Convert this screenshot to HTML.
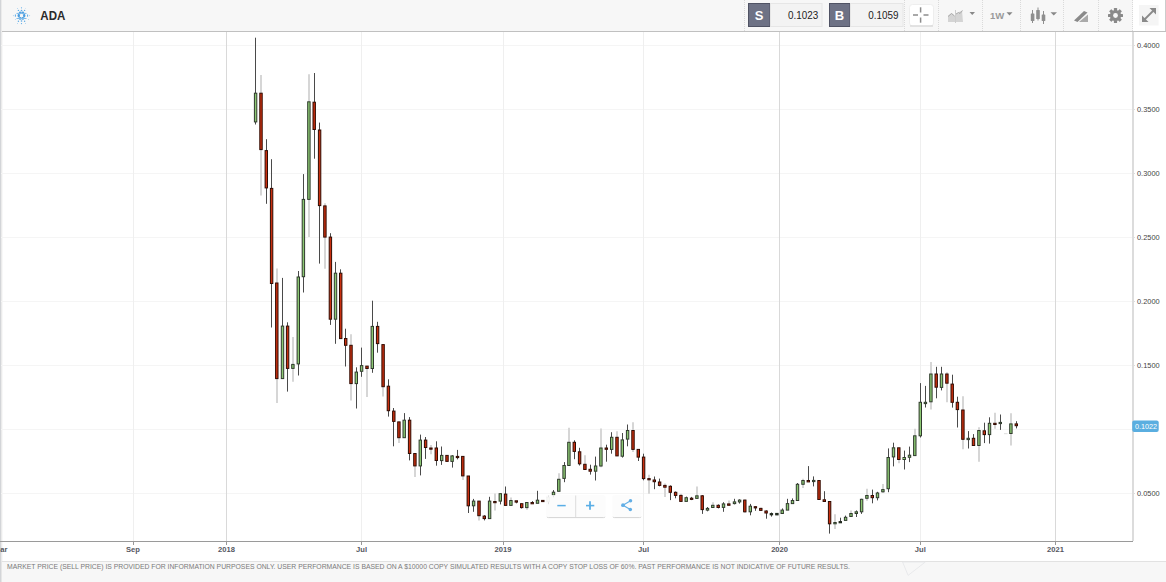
<!DOCTYPE html>
<html><head><meta charset="utf-8"><style>
html,body{margin:0;padding:0;background:#fff;}
body{width:1166px;height:582px;overflow:hidden;position:relative;font-family:"Liberation Sans",sans-serif;}
svg{position:absolute;left:0;top:0;display:block;}
.xl{font-family:"Liberation Sans",sans-serif;font-size:7.6px;font-weight:bold;fill:#55575f;}
.yl{font-family:"Liberation Sans",sans-serif;font-size:7.4px;fill:#444;}
.ft{font-family:"Liberation Sans",sans-serif;font-size:7px;fill:#7a7a7a;}
</style></head><body>
<svg width="1166" height="582" viewBox="0 0 1166 582">
<rect x="0" y="0" width="1166" height="582" fill="#fff"/>
<!-- header -->
<rect x="0" y="0" width="1166" height="31" fill="#f7f7f7"/>
<rect x="1133" y="0" width="33" height="31" fill="#fff"/>
<line x1="0" y1="31.5" x2="1166" y2="31.5" stroke="#c0c0c0" stroke-width="1"/>
<!-- left border -->
<rect x="0" y="0" width="1" height="582" fill="#d3d5d8"/><rect x="1" y="0" width="1" height="582" fill="#ebebeb"/><rect x="2" y="32" width="1" height="529" fill="#f8f8f8"/>
<!-- chart grid -->
<line x1="1" y1="493.5" x2="1132" y2="493.5" stroke="#f5f5f5" stroke-width="1"/><line x1="1" y1="429.5" x2="1132" y2="429.5" stroke="#f5f5f5" stroke-width="1"/><line x1="1" y1="365.5" x2="1132" y2="365.5" stroke="#f5f5f5" stroke-width="1"/><line x1="1" y1="301.5" x2="1132" y2="301.5" stroke="#f5f5f5" stroke-width="1"/><line x1="1" y1="237.5" x2="1132" y2="237.5" stroke="#f5f5f5" stroke-width="1"/><line x1="1" y1="173.5" x2="1132" y2="173.5" stroke="#f5f5f5" stroke-width="1"/><line x1="1" y1="109.5" x2="1132" y2="109.5" stroke="#f5f5f5" stroke-width="1"/><line x1="1" y1="45.5" x2="1132" y2="45.5" stroke="#f5f5f5" stroke-width="1"/>
<line x1="133.5" y1="32" x2="133.5" y2="541" stroke="#efefef" stroke-width="1"/><line x1="361.5" y1="32" x2="361.5" y2="541" stroke="#efefef" stroke-width="1"/><line x1="503.5" y1="32" x2="503.5" y2="541" stroke="#efefef" stroke-width="1"/><line x1="643.5" y1="32" x2="643.5" y2="541" stroke="#efefef" stroke-width="1"/><line x1="920.5" y1="32" x2="920.5" y2="541" stroke="#efefef" stroke-width="1"/><line x1="226.5" y1="32" x2="226.5" y2="541" stroke="#d9d9d9" stroke-width="1"/><line x1="779.5" y1="32" x2="779.5" y2="541" stroke="#d9d9d9" stroke-width="1"/><line x1="1055.5" y1="32" x2="1055.5" y2="541" stroke="#d9d9d9" stroke-width="1"/>
<!-- candles -->
<g><line x1="255.5" y1="37.7" x2="255.5" y2="93.2" stroke="#4a4a4a" stroke-width="1"/><line x1="255.5" y1="121.9" x2="255.5" y2="124.5" stroke="#4a4a4a" stroke-width="1"/><line x1="261" y1="75.0" x2="261" y2="93.2" stroke="#d6d6d6" stroke-width="2"/><line x1="261" y1="149.6" x2="261" y2="195.6" stroke="#d6d6d6" stroke-width="2"/><line x1="266.5" y1="139.2" x2="266.5" y2="150.6" stroke="#4a4a4a" stroke-width="1"/><line x1="266.5" y1="187.9" x2="266.5" y2="203.8" stroke="#4a4a4a" stroke-width="1"/><line x1="271.5" y1="159.2" x2="271.5" y2="188.4" stroke="#4a4a4a" stroke-width="1"/><line x1="271.5" y1="283.5" x2="271.5" y2="327.5" stroke="#4a4a4a" stroke-width="1"/><line x1="277" y1="268.4" x2="277" y2="283.0" stroke="#d6d6d6" stroke-width="2"/><line x1="277" y1="378.6" x2="277" y2="403.0" stroke="#d6d6d6" stroke-width="2"/><line x1="282.5" y1="277.9" x2="282.5" y2="326.1" stroke="#4a4a4a" stroke-width="1"/><line x1="282.5" y1="378.6" x2="282.5" y2="379.0" stroke="#4a4a4a" stroke-width="1"/><line x1="287.5" y1="322.3" x2="287.5" y2="326.1" stroke="#4a4a4a" stroke-width="1"/><line x1="287.5" y1="368.4" x2="287.5" y2="391.6" stroke="#4a4a4a" stroke-width="1"/><line x1="293" y1="336.9" x2="293" y2="364.4" stroke="#d6d6d6" stroke-width="2"/><line x1="293" y1="368.4" x2="293" y2="381.7" stroke="#d6d6d6" stroke-width="2"/><line x1="298.5" y1="271.0" x2="298.5" y2="277.0" stroke="#4a4a4a" stroke-width="1"/><line x1="298.5" y1="363.9" x2="298.5" y2="375.5" stroke="#4a4a4a" stroke-width="1"/><line x1="303.5" y1="174.1" x2="303.5" y2="199.4" stroke="#4a4a4a" stroke-width="1"/><line x1="303.5" y1="276.7" x2="303.5" y2="292.5" stroke="#4a4a4a" stroke-width="1"/><line x1="309" y1="74.3" x2="309" y2="101.8" stroke="#d6d6d6" stroke-width="2"/><line x1="309" y1="199.4" x2="309" y2="237.1" stroke="#d6d6d6" stroke-width="2"/><line x1="314.5" y1="73.0" x2="314.5" y2="102.2" stroke="#4a4a4a" stroke-width="1"/><line x1="314.5" y1="129.5" x2="314.5" y2="158.7" stroke="#4a4a4a" stroke-width="1"/><line x1="319.5" y1="122.6" x2="319.5" y2="130.0" stroke="#4a4a4a" stroke-width="1"/><line x1="319.5" y1="205.6" x2="319.5" y2="263.6" stroke="#4a4a4a" stroke-width="1"/><line x1="325" y1="203.3" x2="325" y2="205.9" stroke="#d6d6d6" stroke-width="2"/><line x1="325" y1="237.1" x2="325" y2="268.8" stroke="#d6d6d6" stroke-width="2"/><line x1="330.5" y1="233.2" x2="330.5" y2="237.1" stroke="#4a4a4a" stroke-width="1"/><line x1="330.5" y1="319.2" x2="330.5" y2="324.9" stroke="#4a4a4a" stroke-width="1"/><line x1="335.5" y1="261.9" x2="335.5" y2="273.2" stroke="#4a4a4a" stroke-width="1"/><line x1="335.5" y1="319.2" x2="335.5" y2="343.8" stroke="#4a4a4a" stroke-width="1"/><line x1="340.5" y1="269.3" x2="340.5" y2="273.2" stroke="#4a4a4a" stroke-width="1"/><line x1="345.5" y1="328.7" x2="345.5" y2="338.5" stroke="#4a4a4a" stroke-width="1"/><line x1="345.5" y1="345.3" x2="345.5" y2="366.5" stroke="#4a4a4a" stroke-width="1"/><line x1="351" y1="334.3" x2="351" y2="345.3" stroke="#d6d6d6" stroke-width="2"/><line x1="351" y1="383.6" x2="351" y2="400.4" stroke="#d6d6d6" stroke-width="2"/><line x1="356.5" y1="367.3" x2="356.5" y2="372.1" stroke="#4a4a4a" stroke-width="1"/><line x1="356.5" y1="383.6" x2="356.5" y2="408.5" stroke="#4a4a4a" stroke-width="1"/><line x1="361.5" y1="347.6" x2="361.5" y2="365.6" stroke="#4a4a4a" stroke-width="1"/><line x1="361.5" y1="371.3" x2="361.5" y2="376.8" stroke="#4a4a4a" stroke-width="1"/><line x1="367" y1="368.5" x2="367" y2="397.0" stroke="#d6d6d6" stroke-width="2"/><line x1="372.5" y1="300.7" x2="372.5" y2="326.4" stroke="#4a4a4a" stroke-width="1"/><line x1="372.5" y1="368.5" x2="372.5" y2="372.8" stroke="#4a4a4a" stroke-width="1"/><line x1="377.5" y1="321.8" x2="377.5" y2="326.4" stroke="#4a4a4a" stroke-width="1"/><line x1="377.5" y1="343.6" x2="377.5" y2="352.7" stroke="#4a4a4a" stroke-width="1"/><line x1="383" y1="344.0" x2="383" y2="344.6" stroke="#d6d6d6" stroke-width="2"/><line x1="383" y1="386.7" x2="383" y2="396.5" stroke="#d6d6d6" stroke-width="2"/><line x1="388.5" y1="379.3" x2="388.5" y2="386.2" stroke="#4a4a4a" stroke-width="1"/><line x1="388.5" y1="410.7" x2="388.5" y2="416.6" stroke="#4a4a4a" stroke-width="1"/><line x1="393.5" y1="408.0" x2="393.5" y2="411.1" stroke="#4a4a4a" stroke-width="1"/><line x1="393.5" y1="421.4" x2="393.5" y2="446.3" stroke="#4a4a4a" stroke-width="1"/><line x1="399" y1="421.5" x2="399" y2="421.9" stroke="#d6d6d6" stroke-width="2"/><line x1="399" y1="437.7" x2="399" y2="442.9" stroke="#d6d6d6" stroke-width="2"/><line x1="404.5" y1="413.1" x2="404.5" y2="420.2" stroke="#4a4a4a" stroke-width="1"/><line x1="409.5" y1="417.1" x2="409.5" y2="420.2" stroke="#4a4a4a" stroke-width="1"/><line x1="409.5" y1="453.5" x2="409.5" y2="460.4" stroke="#4a4a4a" stroke-width="1"/><line x1="415" y1="453.0" x2="415" y2="453.5" stroke="#d6d6d6" stroke-width="2"/><line x1="415" y1="465.9" x2="415" y2="476.9" stroke="#d6d6d6" stroke-width="2"/><line x1="420.5" y1="434.6" x2="420.5" y2="440.1" stroke="#4a4a4a" stroke-width="1"/><line x1="420.5" y1="465.9" x2="420.5" y2="475.4" stroke="#4a4a4a" stroke-width="1"/><line x1="425.5" y1="437.0" x2="425.5" y2="440.1" stroke="#4a4a4a" stroke-width="1"/><line x1="425.5" y1="447.5" x2="425.5" y2="458.9" stroke="#4a4a4a" stroke-width="1"/><line x1="431" y1="445.0" x2="431" y2="448.0" stroke="#d6d6d6" stroke-width="2"/><line x1="431" y1="449.1" x2="431" y2="454.2" stroke="#d6d6d6" stroke-width="2"/><line x1="436.5" y1="441.3" x2="436.5" y2="448.0" stroke="#4a4a4a" stroke-width="1"/><line x1="436.5" y1="460.5" x2="436.5" y2="465.7" stroke="#4a4a4a" stroke-width="1"/><line x1="441.5" y1="446.5" x2="441.5" y2="455.4" stroke="#4a4a4a" stroke-width="1"/><line x1="441.5" y1="460.6" x2="441.5" y2="464.9" stroke="#4a4a4a" stroke-width="1"/><line x1="452.5" y1="455.1" x2="452.5" y2="455.9" stroke="#4a4a4a" stroke-width="1"/><line x1="452.5" y1="461.4" x2="452.5" y2="467.6" stroke="#4a4a4a" stroke-width="1"/><line x1="457.5" y1="449.9" x2="457.5" y2="456.4" stroke="#4a4a4a" stroke-width="1"/><line x1="457.5" y1="457.3" x2="457.5" y2="459.4" stroke="#4a4a4a" stroke-width="1"/><line x1="463" y1="455.9" x2="463" y2="456.4" stroke="#d6d6d6" stroke-width="2"/><line x1="463" y1="475.9" x2="463" y2="480.0" stroke="#d6d6d6" stroke-width="2"/><line x1="468.5" y1="505.8" x2="468.5" y2="513.0" stroke="#4a4a4a" stroke-width="1"/><line x1="473.5" y1="498.9" x2="473.5" y2="501.1" stroke="#4a4a4a" stroke-width="1"/><line x1="473.5" y1="505.8" x2="473.5" y2="511.8" stroke="#4a4a4a" stroke-width="1"/><line x1="479" y1="515.7" x2="479" y2="520.4" stroke="#d6d6d6" stroke-width="2"/><line x1="484.5" y1="515.2" x2="484.5" y2="516.1" stroke="#4a4a4a" stroke-width="1"/><line x1="484.5" y1="518.6" x2="484.5" y2="520.4" stroke="#4a4a4a" stroke-width="1"/><line x1="489.5" y1="496.8" x2="489.5" y2="501.1" stroke="#4a4a4a" stroke-width="1"/><line x1="495" y1="493.4" x2="495" y2="501.5" stroke="#d6d6d6" stroke-width="2"/><line x1="495" y1="502.3" x2="495" y2="510.4" stroke="#d6d6d6" stroke-width="2"/><line x1="500.5" y1="493.4" x2="500.5" y2="493.7" stroke="#4a4a4a" stroke-width="1"/><line x1="500.5" y1="501.1" x2="500.5" y2="504.4" stroke="#4a4a4a" stroke-width="1"/><line x1="505.5" y1="486.5" x2="505.5" y2="494.1" stroke="#4a4a4a" stroke-width="1"/><line x1="511" y1="497.5" x2="511" y2="500.5" stroke="#d6d6d6" stroke-width="2"/><line x1="516.5" y1="502.1" x2="516.5" y2="503.3" stroke="#4a4a4a" stroke-width="1"/><line x1="521.5" y1="503.3" x2="521.5" y2="503.7" stroke="#4a4a4a" stroke-width="1"/><line x1="521.5" y1="507.6" x2="521.5" y2="508.5" stroke="#4a4a4a" stroke-width="1"/><line x1="527" y1="507.6" x2="527" y2="509.7" stroke="#d6d6d6" stroke-width="2"/><line x1="532.5" y1="501.1" x2="532.5" y2="502.5" stroke="#4a4a4a" stroke-width="1"/><line x1="537.5" y1="490.8" x2="537.5" y2="500.2" stroke="#4a4a4a" stroke-width="1"/><line x1="548.5" y1="495.6" x2="548.5" y2="497.3" stroke="#4a4a4a" stroke-width="1"/><line x1="548.5" y1="501.6" x2="548.5" y2="504.2" stroke="#4a4a4a" stroke-width="1"/><line x1="553.5" y1="490.1" x2="553.5" y2="492.2" stroke="#4a4a4a" stroke-width="1"/><line x1="553.5" y1="495.1" x2="553.5" y2="497.3" stroke="#4a4a4a" stroke-width="1"/><line x1="559" y1="473.3" x2="559" y2="479.3" stroke="#d6d6d6" stroke-width="2"/><line x1="564.5" y1="462.1" x2="564.5" y2="465.5" stroke="#4a4a4a" stroke-width="1"/><line x1="564.5" y1="478.4" x2="564.5" y2="482.2" stroke="#4a4a4a" stroke-width="1"/><line x1="569" y1="427.7" x2="569" y2="442.3" stroke="#d6d6d6" stroke-width="2"/><line x1="574.5" y1="440.3" x2="574.5" y2="442.3" stroke="#4a4a4a" stroke-width="1"/><line x1="574.5" y1="451.4" x2="574.5" y2="459.2" stroke="#4a4a4a" stroke-width="1"/><line x1="579.5" y1="447.8" x2="579.5" y2="451.8" stroke="#4a4a4a" stroke-width="1"/><line x1="579.5" y1="463.8" x2="579.5" y2="465.5" stroke="#4a4a4a" stroke-width="1"/><line x1="585" y1="455.2" x2="585" y2="464.3" stroke="#d6d6d6" stroke-width="2"/><line x1="590.5" y1="464.7" x2="590.5" y2="469.3" stroke="#4a4a4a" stroke-width="1"/><line x1="590.5" y1="471.2" x2="590.5" y2="474.6" stroke="#4a4a4a" stroke-width="1"/><line x1="595.5" y1="456.6" x2="595.5" y2="466.0" stroke="#4a4a4a" stroke-width="1"/><line x1="595.5" y1="471.2" x2="595.5" y2="480.5" stroke="#4a4a4a" stroke-width="1"/><line x1="601" y1="428.5" x2="601" y2="448.0" stroke="#d6d6d6" stroke-width="2"/><line x1="601" y1="466.0" x2="601" y2="467.3" stroke="#d6d6d6" stroke-width="2"/><line x1="606.5" y1="444.7" x2="606.5" y2="448.0" stroke="#4a4a4a" stroke-width="1"/><line x1="606.5" y1="449.3" x2="606.5" y2="461.7" stroke="#4a4a4a" stroke-width="1"/><line x1="611.5" y1="432.2" x2="611.5" y2="437.3" stroke="#4a4a4a" stroke-width="1"/><line x1="611.5" y1="449.4" x2="611.5" y2="453.7" stroke="#4a4a4a" stroke-width="1"/><line x1="617" y1="431.3" x2="617" y2="437.3" stroke="#d6d6d6" stroke-width="2"/><line x1="622.5" y1="433.0" x2="622.5" y2="439.9" stroke="#4a4a4a" stroke-width="1"/><line x1="622.5" y1="456.2" x2="622.5" y2="457.6" stroke="#4a4a4a" stroke-width="1"/><line x1="627.5" y1="424.5" x2="627.5" y2="430.5" stroke="#4a4a4a" stroke-width="1"/><line x1="627.5" y1="439.1" x2="627.5" y2="446.3" stroke="#4a4a4a" stroke-width="1"/><line x1="633" y1="422.2" x2="633" y2="430.5" stroke="#d6d6d6" stroke-width="2"/><line x1="633" y1="449.4" x2="633" y2="451.9" stroke="#d6d6d6" stroke-width="2"/><line x1="638.5" y1="457.1" x2="638.5" y2="461.0" stroke="#4a4a4a" stroke-width="1"/><line x1="643.5" y1="453.7" x2="643.5" y2="457.1" stroke="#4a4a4a" stroke-width="1"/><line x1="643.5" y1="478.6" x2="643.5" y2="480.3" stroke="#4a4a4a" stroke-width="1"/><line x1="649" y1="474.8" x2="649" y2="478.6" stroke="#d6d6d6" stroke-width="2"/><line x1="649" y1="479.8" x2="649" y2="493.7" stroke="#d6d6d6" stroke-width="2"/><line x1="654.5" y1="476.5" x2="654.5" y2="480.0" stroke="#4a4a4a" stroke-width="1"/><line x1="654.5" y1="481.7" x2="654.5" y2="489.2" stroke="#4a4a4a" stroke-width="1"/><line x1="659.5" y1="478.6" x2="659.5" y2="482.0" stroke="#4a4a4a" stroke-width="1"/><line x1="659.5" y1="485.4" x2="659.5" y2="486.3" stroke="#4a4a4a" stroke-width="1"/><line x1="665" y1="483.4" x2="665" y2="485.4" stroke="#d6d6d6" stroke-width="2"/><line x1="665" y1="487.2" x2="665" y2="497.1" stroke="#d6d6d6" stroke-width="2"/><line x1="670.5" y1="485.4" x2="670.5" y2="486.3" stroke="#4a4a4a" stroke-width="1"/><line x1="670.5" y1="492.3" x2="670.5" y2="500.1" stroke="#4a4a4a" stroke-width="1"/><line x1="675.5" y1="491.5" x2="675.5" y2="492.3" stroke="#4a4a4a" stroke-width="1"/><line x1="675.5" y1="495.4" x2="675.5" y2="498.3" stroke="#4a4a4a" stroke-width="1"/><line x1="681" y1="493.7" x2="681" y2="495.4" stroke="#d6d6d6" stroke-width="2"/><line x1="686.5" y1="496.6" x2="686.5" y2="497.7" stroke="#4a4a4a" stroke-width="1"/><line x1="691.5" y1="496.9" x2="691.5" y2="498.2" stroke="#4a4a4a" stroke-width="1"/><line x1="691.5" y1="499.2" x2="691.5" y2="500.1" stroke="#4a4a4a" stroke-width="1"/><line x1="697" y1="486.4" x2="697" y2="495.8" stroke="#d6d6d6" stroke-width="2"/><line x1="702.5" y1="495.0" x2="702.5" y2="495.8" stroke="#4a4a4a" stroke-width="1"/><line x1="702.5" y1="509.6" x2="702.5" y2="513.9" stroke="#4a4a4a" stroke-width="1"/><line x1="707.5" y1="507.0" x2="707.5" y2="508.4" stroke="#4a4a4a" stroke-width="1"/><line x1="707.5" y1="510.1" x2="707.5" y2="511.3" stroke="#4a4a4a" stroke-width="1"/><line x1="713" y1="502.2" x2="713" y2="505.3" stroke="#d6d6d6" stroke-width="2"/><line x1="718.5" y1="504.4" x2="718.5" y2="505.3" stroke="#4a4a4a" stroke-width="1"/><line x1="718.5" y1="507.5" x2="718.5" y2="508.4" stroke="#4a4a4a" stroke-width="1"/><line x1="723.5" y1="502.2" x2="723.5" y2="503.9" stroke="#4a4a4a" stroke-width="1"/><line x1="723.5" y1="507.4" x2="723.5" y2="511.8" stroke="#4a4a4a" stroke-width="1"/><line x1="729" y1="500.5" x2="729" y2="503.9" stroke="#d6d6d6" stroke-width="2"/><line x1="734.5" y1="498.8" x2="734.5" y2="501.9" stroke="#4a4a4a" stroke-width="1"/><line x1="734.5" y1="503.6" x2="734.5" y2="504.4" stroke="#4a4a4a" stroke-width="1"/><line x1="739.5" y1="499.3" x2="739.5" y2="500.1" stroke="#4a4a4a" stroke-width="1"/><line x1="739.5" y1="501.9" x2="739.5" y2="503.6" stroke="#4a4a4a" stroke-width="1"/><line x1="745" y1="499.3" x2="745" y2="500.1" stroke="#d6d6d6" stroke-width="2"/><line x1="745" y1="511.8" x2="745" y2="513.0" stroke="#d6d6d6" stroke-width="2"/><line x1="750.5" y1="503.9" x2="750.5" y2="506.2" stroke="#4a4a4a" stroke-width="1"/><line x1="750.5" y1="511.8" x2="750.5" y2="515.3" stroke="#4a4a4a" stroke-width="1"/><line x1="755.5" y1="506.2" x2="755.5" y2="506.7" stroke="#4a4a4a" stroke-width="1"/><line x1="755.5" y1="507.9" x2="755.5" y2="510.8" stroke="#4a4a4a" stroke-width="1"/><line x1="761" y1="507.4" x2="761" y2="508.4" stroke="#d6d6d6" stroke-width="2"/><line x1="766.5" y1="510.4" x2="766.5" y2="511.0" stroke="#4a4a4a" stroke-width="1"/><line x1="766.5" y1="513.0" x2="766.5" y2="518.7" stroke="#4a4a4a" stroke-width="1"/><line x1="771.5" y1="512.5" x2="771.5" y2="513.6" stroke="#4a4a4a" stroke-width="1"/><line x1="771.5" y1="514.8" x2="771.5" y2="516.6" stroke="#4a4a4a" stroke-width="1"/><line x1="776.5" y1="513.0" x2="776.5" y2="513.4" stroke="#4a4a4a" stroke-width="1"/><line x1="782.5" y1="508.4" x2="782.5" y2="510.1" stroke="#4a4a4a" stroke-width="1"/><line x1="787.5" y1="498.8" x2="787.5" y2="503.6" stroke="#4a4a4a" stroke-width="1"/><line x1="792.5" y1="498.4" x2="792.5" y2="500.5" stroke="#4a4a4a" stroke-width="1"/><line x1="797.5" y1="483.0" x2="797.5" y2="484.3" stroke="#4a4a4a" stroke-width="1"/><line x1="803" y1="478.7" x2="803" y2="480.5" stroke="#d6d6d6" stroke-width="2"/><line x1="803" y1="484.3" x2="803" y2="488.1" stroke="#d6d6d6" stroke-width="2"/><line x1="808.5" y1="466.1" x2="808.5" y2="480.5" stroke="#4a4a4a" stroke-width="1"/><line x1="813.5" y1="476.4" x2="813.5" y2="480.4" stroke="#4a4a4a" stroke-width="1"/><line x1="813.5" y1="481.6" x2="813.5" y2="486.4" stroke="#4a4a4a" stroke-width="1"/><line x1="824.5" y1="491.2" x2="824.5" y2="499.8" stroke="#4a4a4a" stroke-width="1"/><line x1="829.5" y1="501.0" x2="829.5" y2="501.5" stroke="#4a4a4a" stroke-width="1"/><line x1="829.5" y1="523.8" x2="829.5" y2="533.6" stroke="#4a4a4a" stroke-width="1"/><line x1="835" y1="514.2" x2="835" y2="522.5" stroke="#d6d6d6" stroke-width="2"/><line x1="835" y1="523.8" x2="835" y2="529.0" stroke="#d6d6d6" stroke-width="2"/><line x1="840.5" y1="517.7" x2="840.5" y2="521.6" stroke="#4a4a4a" stroke-width="1"/><line x1="845.5" y1="515.6" x2="845.5" y2="517.3" stroke="#4a4a4a" stroke-width="1"/><line x1="851" y1="510.4" x2="851" y2="513.5" stroke="#d6d6d6" stroke-width="2"/><line x1="856.5" y1="510.4" x2="856.5" y2="511.8" stroke="#4a4a4a" stroke-width="1"/><line x1="856.5" y1="513.5" x2="856.5" y2="517.0" stroke="#4a4a4a" stroke-width="1"/><line x1="861.5" y1="498.8" x2="861.5" y2="499.3" stroke="#4a4a4a" stroke-width="1"/><line x1="861.5" y1="511.8" x2="861.5" y2="513.9" stroke="#4a4a4a" stroke-width="1"/><line x1="867" y1="488.8" x2="867" y2="495.5" stroke="#d6d6d6" stroke-width="2"/><line x1="867" y1="498.3" x2="867" y2="500.8" stroke="#d6d6d6" stroke-width="2"/><line x1="872.5" y1="489.6" x2="872.5" y2="495.5" stroke="#4a4a4a" stroke-width="1"/><line x1="872.5" y1="497.7" x2="872.5" y2="503.3" stroke="#4a4a4a" stroke-width="1"/><line x1="877.5" y1="491.8" x2="877.5" y2="493.0" stroke="#4a4a4a" stroke-width="1"/><line x1="877.5" y1="497.7" x2="877.5" y2="500.4" stroke="#4a4a4a" stroke-width="1"/><line x1="883" y1="483.9" x2="883" y2="489.6" stroke="#d6d6d6" stroke-width="2"/><line x1="883" y1="491.8" x2="883" y2="493.0" stroke="#d6d6d6" stroke-width="2"/><line x1="888.5" y1="448.4" x2="888.5" y2="457.5" stroke="#4a4a4a" stroke-width="1"/><line x1="888.5" y1="488.7" x2="888.5" y2="492.2" stroke="#4a4a4a" stroke-width="1"/><line x1="893.5" y1="442.7" x2="893.5" y2="447.8" stroke="#4a4a4a" stroke-width="1"/><line x1="893.5" y1="456.9" x2="893.5" y2="466.4" stroke="#4a4a4a" stroke-width="1"/><line x1="899" y1="459.5" x2="899" y2="463.3" stroke="#d6d6d6" stroke-width="2"/><line x1="904.5" y1="450.6" x2="904.5" y2="457.5" stroke="#4a4a4a" stroke-width="1"/><line x1="904.5" y1="459.5" x2="904.5" y2="469.5" stroke="#4a4a4a" stroke-width="1"/><line x1="909.5" y1="446.6" x2="909.5" y2="455.2" stroke="#4a4a4a" stroke-width="1"/><line x1="909.5" y1="457.3" x2="909.5" y2="462.1" stroke="#4a4a4a" stroke-width="1"/><line x1="915" y1="428.8" x2="915" y2="435.8" stroke="#d6d6d6" stroke-width="2"/><line x1="920.5" y1="383.1" x2="920.5" y2="402.3" stroke="#4a4a4a" stroke-width="1"/><line x1="920.5" y1="435.8" x2="920.5" y2="437.5" stroke="#4a4a4a" stroke-width="1"/><line x1="925.5" y1="385.9" x2="925.5" y2="402.3" stroke="#4a4a4a" stroke-width="1"/><line x1="925.5" y1="403.6" x2="925.5" y2="407.5" stroke="#4a4a4a" stroke-width="1"/><line x1="931" y1="362.0" x2="931" y2="374.0" stroke="#d6d6d6" stroke-width="2"/><line x1="931" y1="401.8" x2="931" y2="409.6" stroke="#d6d6d6" stroke-width="2"/><line x1="936.5" y1="366.8" x2="936.5" y2="374.0" stroke="#4a4a4a" stroke-width="1"/><line x1="936.5" y1="387.2" x2="936.5" y2="398.3" stroke="#4a4a4a" stroke-width="1"/><line x1="941.5" y1="366.8" x2="941.5" y2="374.0" stroke="#4a4a4a" stroke-width="1"/><line x1="941.5" y1="387.4" x2="941.5" y2="390.4" stroke="#4a4a4a" stroke-width="1"/><line x1="947" y1="372.3" x2="947" y2="374.0" stroke="#d6d6d6" stroke-width="2"/><line x1="947" y1="383.2" x2="947" y2="402.3" stroke="#d6d6d6" stroke-width="2"/><line x1="952.5" y1="374.7" x2="952.5" y2="384.1" stroke="#4a4a4a" stroke-width="1"/><line x1="952.5" y1="402.3" x2="952.5" y2="407.6" stroke="#4a4a4a" stroke-width="1"/><line x1="957.5" y1="396.7" x2="957.5" y2="402.3" stroke="#4a4a4a" stroke-width="1"/><line x1="957.5" y1="409.6" x2="957.5" y2="427.5" stroke="#4a4a4a" stroke-width="1"/><line x1="963" y1="396.2" x2="963" y2="410.0" stroke="#d6d6d6" stroke-width="2"/><line x1="963" y1="439.3" x2="963" y2="449.2" stroke="#d6d6d6" stroke-width="2"/><line x1="968.5" y1="431.1" x2="968.5" y2="438.3" stroke="#4a4a4a" stroke-width="1"/><line x1="968.5" y1="439.6" x2="968.5" y2="448.5" stroke="#4a4a4a" stroke-width="1"/><line x1="973.5" y1="434.1" x2="973.5" y2="438.3" stroke="#4a4a4a" stroke-width="1"/><line x1="979" y1="427.2" x2="979" y2="430.5" stroke="#d6d6d6" stroke-width="2"/><line x1="979" y1="445.5" x2="979" y2="461.8" stroke="#d6d6d6" stroke-width="2"/><line x1="984.5" y1="422.7" x2="984.5" y2="430.8" stroke="#4a4a4a" stroke-width="1"/><line x1="984.5" y1="434.6" x2="984.5" y2="443.1" stroke="#4a4a4a" stroke-width="1"/><line x1="989.5" y1="417.3" x2="989.5" y2="423.3" stroke="#4a4a4a" stroke-width="1"/><line x1="989.5" y1="434.6" x2="989.5" y2="443.6" stroke="#4a4a4a" stroke-width="1"/><line x1="995" y1="412.8" x2="995" y2="423.3" stroke="#d6d6d6" stroke-width="2"/><line x1="995" y1="424.5" x2="995" y2="428.7" stroke="#d6d6d6" stroke-width="2"/><line x1="1000.5" y1="414.5" x2="1000.5" y2="422.4" stroke="#4a4a4a" stroke-width="1"/><line x1="1000.5" y1="423.6" x2="1000.5" y2="429.9" stroke="#4a4a4a" stroke-width="1"/><line x1="1011" y1="413.3" x2="1011" y2="423.9" stroke="#d6d6d6" stroke-width="2"/><line x1="1011" y1="433.5" x2="1011" y2="445.5" stroke="#d6d6d6" stroke-width="2"/><line x1="1016.5" y1="421.2" x2="1016.5" y2="423.9" stroke="#4a4a4a" stroke-width="1"/><line x1="1016.5" y1="425.7" x2="1016.5" y2="428.4" stroke="#4a4a4a" stroke-width="1"/></g>
<g><rect x="254.40" y="93.2" width="2.4" height="28.7" fill="#8cc873" stroke="#2f3a2c" stroke-width="1"/><rect x="259.80" y="93.2" width="2.4" height="56.4" fill="#c92f0f" stroke="#300b02" stroke-width="1"/><rect x="265.10" y="150.6" width="2.4" height="37.3" fill="#c92f0f" stroke="#300b02" stroke-width="1"/><rect x="270.40" y="188.4" width="2.4" height="95.1" fill="#c92f0f" stroke="#300b02" stroke-width="1"/><rect x="275.60" y="283.0" width="2.4" height="95.6" fill="#c92f0f" stroke="#300b02" stroke-width="1"/><rect x="281.30" y="326.1" width="2.4" height="52.5" fill="#8cc873" stroke="#2f3a2c" stroke-width="1"/><rect x="286.40" y="326.1" width="2.4" height="42.3" fill="#c92f0f" stroke="#300b02" stroke-width="1"/><rect x="291.70" y="364.4" width="2.4" height="4.0" fill="#8cc873" stroke="#2f3a2c" stroke-width="1"/><rect x="297.10" y="277.0" width="2.4" height="86.9" fill="#8cc873" stroke="#2f3a2c" stroke-width="1"/><rect x="302.20" y="199.4" width="2.4" height="77.3" fill="#8cc873" stroke="#2f3a2c" stroke-width="1"/><rect x="307.70" y="101.8" width="2.4" height="97.6" fill="#8cc873" stroke="#2f3a2c" stroke-width="1"/><rect x="313.00" y="102.2" width="2.4" height="27.3" fill="#c92f0f" stroke="#300b02" stroke-width="1"/><rect x="318.40" y="130.0" width="2.4" height="75.6" fill="#c92f0f" stroke="#300b02" stroke-width="1"/><rect x="323.70" y="205.9" width="2.4" height="31.2" fill="#c92f0f" stroke="#300b02" stroke-width="1"/><rect x="329.20" y="237.1" width="2.4" height="82.1" fill="#c92f0f" stroke="#300b02" stroke-width="1"/><rect x="334.30" y="273.2" width="2.4" height="46.0" fill="#8cc873" stroke="#2f3a2c" stroke-width="1"/><rect x="339.50" y="273.2" width="2.4" height="65.4" fill="#c92f0f" stroke="#300b02" stroke-width="1"/><rect x="344.50" y="338.5" width="2.4" height="6.8" fill="#c92f0f" stroke="#300b02" stroke-width="1"/><rect x="349.80" y="345.3" width="2.4" height="38.3" fill="#c92f0f" stroke="#300b02" stroke-width="1"/><rect x="355.10" y="372.1" width="2.4" height="11.5" fill="#8cc873" stroke="#2f3a2c" stroke-width="1"/><rect x="360.40" y="365.6" width="2.4" height="5.7" fill="#8cc873" stroke="#2f3a2c" stroke-width="1"/><rect x="365.80" y="366.1" width="2.4" height="2.4" fill="#c92f0f" stroke="#300b02" stroke-width="1"/><rect x="371.10" y="326.4" width="2.4" height="42.1" fill="#8cc873" stroke="#2f3a2c" stroke-width="1"/><rect x="376.40" y="326.4" width="2.4" height="17.2" fill="#c92f0f" stroke="#300b02" stroke-width="1"/><rect x="381.90" y="344.6" width="2.4" height="42.1" fill="#c92f0f" stroke="#300b02" stroke-width="1"/><rect x="387.20" y="386.2" width="2.4" height="24.5" fill="#c92f0f" stroke="#300b02" stroke-width="1"/><rect x="392.60" y="411.1" width="2.4" height="10.3" fill="#c92f0f" stroke="#300b02" stroke-width="1"/><rect x="397.70" y="421.9" width="2.4" height="15.8" fill="#c92f0f" stroke="#300b02" stroke-width="1"/><rect x="403.00" y="420.2" width="2.4" height="17.5" fill="#8cc873" stroke="#2f3a2c" stroke-width="1"/><rect x="408.40" y="420.2" width="2.4" height="33.3" fill="#c92f0f" stroke="#300b02" stroke-width="1"/><rect x="413.70" y="453.5" width="2.4" height="12.4" fill="#c92f0f" stroke="#300b02" stroke-width="1"/><rect x="419.10" y="440.1" width="2.4" height="25.8" fill="#8cc873" stroke="#2f3a2c" stroke-width="1"/><rect x="424.40" y="440.1" width="2.4" height="7.4" fill="#c92f0f" stroke="#300b02" stroke-width="1"/><rect x="429.70" y="448.0" width="2.4" height="1.2" fill="#c92f0f" stroke="#300b02" stroke-width="1"/><rect x="435.10" y="448.0" width="2.4" height="12.5" fill="#c92f0f" stroke="#300b02" stroke-width="1"/><rect x="440.50" y="455.4" width="2.4" height="5.2" fill="#8cc873" stroke="#2f3a2c" stroke-width="1"/><rect x="445.80" y="455.4" width="2.4" height="6.0" fill="#c92f0f" stroke="#300b02" stroke-width="1"/><rect x="450.90" y="455.9" width="2.4" height="5.5" fill="#8cc873" stroke="#2f3a2c" stroke-width="1"/><rect x="456.30" y="456.4" width="2.4" height="1.2" fill="#c92f0f" stroke="#300b02" stroke-width="1"/><rect x="461.60" y="456.4" width="2.4" height="19.5" fill="#c92f0f" stroke="#300b02" stroke-width="1"/><rect x="467.10" y="476.0" width="2.4" height="29.8" fill="#c92f0f" stroke="#300b02" stroke-width="1"/><rect x="472.40" y="501.1" width="2.4" height="4.7" fill="#8cc873" stroke="#2f3a2c" stroke-width="1"/><rect x="477.80" y="501.1" width="2.4" height="14.6" fill="#c92f0f" stroke="#300b02" stroke-width="1"/><rect x="483.10" y="516.1" width="2.4" height="2.5" fill="#c92f0f" stroke="#300b02" stroke-width="1"/><rect x="488.40" y="501.1" width="2.4" height="17.5" fill="#8cc873" stroke="#2f3a2c" stroke-width="1"/><rect x="493.70" y="501.5" width="2.4" height="1.2" fill="#c92f0f" stroke="#300b02" stroke-width="1"/><rect x="499.10" y="493.7" width="2.4" height="7.4" fill="#8cc873" stroke="#2f3a2c" stroke-width="1"/><rect x="504.40" y="494.1" width="2.4" height="11.3" fill="#c92f0f" stroke="#300b02" stroke-width="1"/><rect x="509.70" y="500.5" width="2.4" height="4.9" fill="#8cc873" stroke="#2f3a2c" stroke-width="1"/><rect x="515.10" y="500.8" width="2.4" height="1.3" fill="#c92f0f" stroke="#300b02" stroke-width="1"/><rect x="520.50" y="503.7" width="2.4" height="3.9" fill="#c92f0f" stroke="#300b02" stroke-width="1"/><rect x="525.60" y="502.5" width="2.4" height="5.1" fill="#8cc873" stroke="#2f3a2c" stroke-width="1"/><rect x="531.00" y="502.5" width="2.4" height="1.3" fill="#c92f0f" stroke="#300b02" stroke-width="1"/><rect x="536.30" y="500.2" width="2.4" height="3.1" fill="#8cc873" stroke="#2f3a2c" stroke-width="1"/><rect x="541.60" y="500.4" width="2.4" height="1.2" fill="#c92f0f" stroke="#300b02" stroke-width="1"/><rect x="546.90" y="497.3" width="2.4" height="4.3" fill="#e6f2e0" stroke="#bbbbbb" stroke-width="1"/><rect x="552.30" y="492.2" width="2.4" height="2.9" fill="#8cc873" stroke="#2f3a2c" stroke-width="1"/><rect x="557.60" y="479.3" width="2.4" height="12.0" fill="#8cc873" stroke="#2f3a2c" stroke-width="1"/><rect x="562.90" y="465.5" width="2.4" height="12.9" fill="#8cc873" stroke="#2f3a2c" stroke-width="1"/><rect x="567.70" y="442.3" width="2.4" height="23.2" fill="#8cc873" stroke="#2f3a2c" stroke-width="1"/><rect x="573.10" y="442.3" width="2.4" height="9.1" fill="#c92f0f" stroke="#300b02" stroke-width="1"/><rect x="578.40" y="451.8" width="2.4" height="12.0" fill="#c92f0f" stroke="#300b02" stroke-width="1"/><rect x="583.70" y="464.3" width="2.4" height="5.2" fill="#c92f0f" stroke="#300b02" stroke-width="1"/><rect x="589.00" y="469.3" width="2.4" height="1.9" fill="#c92f0f" stroke="#300b02" stroke-width="1"/><rect x="594.40" y="466.0" width="2.4" height="5.2" fill="#8cc873" stroke="#2f3a2c" stroke-width="1"/><rect x="599.70" y="448.0" width="2.4" height="18.0" fill="#8cc873" stroke="#2f3a2c" stroke-width="1"/><rect x="605.10" y="448.0" width="2.4" height="1.3" fill="#c92f0f" stroke="#300b02" stroke-width="1"/><rect x="610.50" y="437.3" width="2.4" height="12.1" fill="#8cc873" stroke="#2f3a2c" stroke-width="1"/><rect x="615.80" y="437.3" width="2.4" height="18.6" fill="#c92f0f" stroke="#300b02" stroke-width="1"/><rect x="621.10" y="439.9" width="2.4" height="16.3" fill="#8cc873" stroke="#2f3a2c" stroke-width="1"/><rect x="626.40" y="430.5" width="2.4" height="8.6" fill="#8cc873" stroke="#2f3a2c" stroke-width="1"/><rect x="631.80" y="430.5" width="2.4" height="18.9" fill="#c92f0f" stroke="#300b02" stroke-width="1"/><rect x="637.10" y="449.4" width="2.4" height="7.7" fill="#c92f0f" stroke="#300b02" stroke-width="1"/><rect x="642.40" y="457.1" width="2.4" height="21.5" fill="#c92f0f" stroke="#300b02" stroke-width="1"/><rect x="647.80" y="478.6" width="2.4" height="1.2" fill="#c92f0f" stroke="#300b02" stroke-width="1"/><rect x="653.10" y="480.0" width="2.4" height="1.7" fill="#c92f0f" stroke="#300b02" stroke-width="1"/><rect x="658.40" y="482.0" width="2.4" height="3.4" fill="#c92f0f" stroke="#300b02" stroke-width="1"/><rect x="663.70" y="485.4" width="2.4" height="1.8" fill="#c92f0f" stroke="#300b02" stroke-width="1"/><rect x="669.10" y="486.3" width="2.4" height="6.0" fill="#c92f0f" stroke="#300b02" stroke-width="1"/><rect x="674.40" y="492.3" width="2.4" height="3.1" fill="#c92f0f" stroke="#300b02" stroke-width="1"/><rect x="679.70" y="495.4" width="2.4" height="6.0" fill="#c92f0f" stroke="#300b02" stroke-width="1"/><rect x="685.00" y="497.7" width="2.4" height="3.7" fill="#8cc873" stroke="#2f3a2c" stroke-width="1"/><rect x="690.40" y="498.2" width="2.4" height="1.2" fill="#c92f0f" stroke="#300b02" stroke-width="1"/><rect x="695.70" y="495.8" width="2.4" height="2.6" fill="#8cc873" stroke="#2f3a2c" stroke-width="1"/><rect x="701.00" y="495.8" width="2.4" height="13.8" fill="#c92f0f" stroke="#300b02" stroke-width="1"/><rect x="706.30" y="508.4" width="2.4" height="1.7" fill="#8cc873" stroke="#2f3a2c" stroke-width="1"/><rect x="711.60" y="505.3" width="2.4" height="2.2" fill="#8cc873" stroke="#2f3a2c" stroke-width="1"/><rect x="717.00" y="505.3" width="2.4" height="2.2" fill="#c92f0f" stroke="#300b02" stroke-width="1"/><rect x="722.30" y="503.9" width="2.4" height="3.5" fill="#8cc873" stroke="#2f3a2c" stroke-width="1"/><rect x="727.60" y="503.9" width="2.4" height="1.4" fill="#c92f0f" stroke="#300b02" stroke-width="1"/><rect x="733.30" y="501.9" width="2.4" height="1.7" fill="#8cc873" stroke="#2f3a2c" stroke-width="1"/><rect x="738.40" y="500.1" width="2.4" height="1.8" fill="#8cc873" stroke="#2f3a2c" stroke-width="1"/><rect x="743.60" y="500.1" width="2.4" height="11.7" fill="#c92f0f" stroke="#300b02" stroke-width="1"/><rect x="749.10" y="506.2" width="2.4" height="5.6" fill="#8cc873" stroke="#2f3a2c" stroke-width="1"/><rect x="754.20" y="506.7" width="2.4" height="1.2" fill="#c92f0f" stroke="#300b02" stroke-width="1"/><rect x="759.60" y="508.4" width="2.4" height="2.0" fill="#c92f0f" stroke="#300b02" stroke-width="1"/><rect x="764.90" y="511.0" width="2.4" height="2.0" fill="#c92f0f" stroke="#300b02" stroke-width="1"/><rect x="770.20" y="513.6" width="2.4" height="1.2" fill="#24301f" stroke="#1e261b" stroke-width="1"/><rect x="775.70" y="513.4" width="2.4" height="1.5" fill="#24301f" stroke="#1e261b" stroke-width="1"/><rect x="781.00" y="510.1" width="2.4" height="3.4" fill="#8cc873" stroke="#2f3a2c" stroke-width="1"/><rect x="786.30" y="503.6" width="2.4" height="6.5" fill="#8cc873" stroke="#2f3a2c" stroke-width="1"/><rect x="791.30" y="500.5" width="2.4" height="3.1" fill="#8cc873" stroke="#2f3a2c" stroke-width="1"/><rect x="796.30" y="484.3" width="2.4" height="16.2" fill="#8cc873" stroke="#2f3a2c" stroke-width="1"/><rect x="801.80" y="480.5" width="2.4" height="3.8" fill="#8cc873" stroke="#2f3a2c" stroke-width="1"/><rect x="807.10" y="480.5" width="2.4" height="1.4" fill="#c92f0f" stroke="#300b02" stroke-width="1"/><rect x="812.50" y="480.4" width="2.4" height="1.2" fill="#8cc873" stroke="#2f3a2c" stroke-width="1"/><rect x="817.80" y="480.5" width="2.4" height="19.0" fill="#c92f0f" stroke="#300b02" stroke-width="1"/><rect x="823.10" y="499.8" width="2.4" height="1.7" fill="#c92f0f" stroke="#300b02" stroke-width="1"/><rect x="828.40" y="501.5" width="2.4" height="22.3" fill="#c92f0f" stroke="#300b02" stroke-width="1"/><rect x="833.80" y="522.5" width="2.4" height="1.3" fill="#8cc873" stroke="#2f3a2c" stroke-width="1"/><rect x="839.10" y="521.6" width="2.4" height="1.2" fill="#24301f" stroke="#1e261b" stroke-width="1"/><rect x="844.40" y="517.3" width="2.4" height="3.1" fill="#8cc873" stroke="#2f3a2c" stroke-width="1"/><rect x="849.80" y="513.5" width="2.4" height="3.0" fill="#8cc873" stroke="#2f3a2c" stroke-width="1"/><rect x="855.10" y="511.8" width="2.4" height="1.7" fill="#8cc873" stroke="#2f3a2c" stroke-width="1"/><rect x="860.40" y="499.3" width="2.4" height="12.5" fill="#8cc873" stroke="#2f3a2c" stroke-width="1"/><rect x="865.70" y="495.5" width="2.4" height="2.8" fill="#8cc873" stroke="#2f3a2c" stroke-width="1"/><rect x="871.10" y="495.5" width="2.4" height="2.2" fill="#c92f0f" stroke="#300b02" stroke-width="1"/><rect x="876.30" y="493.0" width="2.4" height="4.7" fill="#8cc873" stroke="#2f3a2c" stroke-width="1"/><rect x="881.70" y="489.6" width="2.4" height="2.2" fill="#8cc873" stroke="#2f3a2c" stroke-width="1"/><rect x="887.00" y="457.5" width="2.4" height="31.2" fill="#8cc873" stroke="#2f3a2c" stroke-width="1"/><rect x="892.30" y="447.8" width="2.4" height="9.1" fill="#8cc873" stroke="#2f3a2c" stroke-width="1"/><rect x="897.60" y="447.8" width="2.4" height="11.7" fill="#c92f0f" stroke="#300b02" stroke-width="1"/><rect x="903.00" y="457.5" width="2.4" height="2.0" fill="#8cc873" stroke="#2f3a2c" stroke-width="1"/><rect x="908.30" y="455.2" width="2.4" height="2.1" fill="#8cc873" stroke="#2f3a2c" stroke-width="1"/><rect x="913.60" y="435.8" width="2.4" height="19.8" fill="#8cc873" stroke="#2f3a2c" stroke-width="1"/><rect x="919.10" y="402.3" width="2.4" height="33.5" fill="#8cc873" stroke="#2f3a2c" stroke-width="1"/><rect x="924.20" y="402.3" width="2.4" height="1.3" fill="#8cc873" stroke="#2f3a2c" stroke-width="1"/><rect x="929.70" y="374.0" width="2.4" height="27.8" fill="#8cc873" stroke="#2f3a2c" stroke-width="1"/><rect x="935.00" y="374.0" width="2.4" height="13.2" fill="#c92f0f" stroke="#300b02" stroke-width="1"/><rect x="940.30" y="374.0" width="2.4" height="13.4" fill="#8cc873" stroke="#2f3a2c" stroke-width="1"/><rect x="945.70" y="374.0" width="2.4" height="9.2" fill="#c92f0f" stroke="#300b02" stroke-width="1"/><rect x="951.00" y="384.1" width="2.4" height="18.2" fill="#c92f0f" stroke="#300b02" stroke-width="1"/><rect x="956.20" y="402.3" width="2.4" height="7.3" fill="#c92f0f" stroke="#300b02" stroke-width="1"/><rect x="961.70" y="410.0" width="2.4" height="29.3" fill="#c92f0f" stroke="#300b02" stroke-width="1"/><rect x="967.00" y="438.3" width="2.4" height="1.3" fill="#8cc873" stroke="#2f3a2c" stroke-width="1"/><rect x="972.30" y="438.3" width="2.4" height="7.2" fill="#c92f0f" stroke="#300b02" stroke-width="1"/><rect x="977.70" y="430.5" width="2.4" height="15.0" fill="#8cc873" stroke="#2f3a2c" stroke-width="1"/><rect x="983.10" y="430.8" width="2.4" height="3.8" fill="#c92f0f" stroke="#300b02" stroke-width="1"/><rect x="988.30" y="423.3" width="2.4" height="11.3" fill="#8cc873" stroke="#2f3a2c" stroke-width="1"/><rect x="993.70" y="423.3" width="2.4" height="1.2" fill="#c92f0f" stroke="#300b02" stroke-width="1"/><rect x="999.10" y="422.4" width="2.4" height="1.2" fill="#8cc873" stroke="#2f3a2c" stroke-width="1"/><rect x="1009.70" y="423.9" width="2.4" height="9.6" fill="#8cc873" stroke="#2f3a2c" stroke-width="1"/><rect x="1015.10" y="423.9" width="2.4" height="1.8" fill="#c92f0f" stroke="#300b02" stroke-width="1"/></g>
<line x1="1004" y1="433.7" x2="1007.5" y2="433.7" stroke="#dddddd" stroke-width="1"/>
<!-- axes -->
<line x1="0" y1="541.5" x2="1133" y2="541.5" stroke="#9a9a9a" stroke-width="1"/>
<line x1="1133" y1="32" x2="1133" y2="541" stroke="#dcdcdc" stroke-width="2"/>
<line x1="133.5" y1="541" x2="133.5" y2="545" stroke="#999" stroke-width="1"/><line x1="361.5" y1="541" x2="361.5" y2="545" stroke="#999" stroke-width="1"/><line x1="503.5" y1="541" x2="503.5" y2="545" stroke="#999" stroke-width="1"/><line x1="643.5" y1="541" x2="643.5" y2="545" stroke="#999" stroke-width="1"/><line x1="920.5" y1="541" x2="920.5" y2="545" stroke="#999" stroke-width="1"/><line x1="226.5" y1="541" x2="226.5" y2="545" stroke="#999" stroke-width="1"/><line x1="779.5" y1="541" x2="779.5" y2="545" stroke="#999" stroke-width="1"/><line x1="1055.5" y1="541" x2="1055.5" y2="545" stroke="#999" stroke-width="1"/>
<text x="0.6" y="552.1" text-anchor="middle" class="xl">Mar</text><text x="133" y="552.1" text-anchor="middle" class="xl">Sep</text><text x="226.5" y="552.1" text-anchor="middle" class="xl">2018</text><text x="361.6" y="552.1" text-anchor="middle" class="xl">Jul</text><text x="503" y="552.1" text-anchor="middle" class="xl">2019</text><text x="643.6" y="552.1" text-anchor="middle" class="xl">Jul</text><text x="779.6" y="552.1" text-anchor="middle" class="xl">2020</text><text x="920.3" y="552.1" text-anchor="middle" class="xl">Jul</text><text x="1055.5" y="552.1" text-anchor="middle" class="xl">2021</text>
<text x="1137" y="48.1" class="yl">0.4000</text><line x1="1133" y1="45.49999999999994" x2="1135" y2="45.49999999999994" stroke="#ddd"/><text x="1137" y="112.1" class="yl">0.3500</text><line x1="1133" y1="109.50000000000006" x2="1135" y2="109.50000000000006" stroke="#ddd"/><text x="1137" y="176.1" class="yl">0.3000</text><line x1="1133" y1="173.50000000000003" x2="1135" y2="173.50000000000003" stroke="#ddd"/><text x="1137" y="240.1" class="yl">0.2500</text><line x1="1133" y1="237.5" x2="1135" y2="237.5" stroke="#ddd"/><text x="1137" y="304.1" class="yl">0.2000</text><line x1="1133" y1="301.5" x2="1135" y2="301.5" stroke="#ddd"/><text x="1137" y="368.1" class="yl">0.1500</text><line x1="1133" y1="365.5" x2="1135" y2="365.5" stroke="#ddd"/><text x="1137" y="496.1" class="yl">0.0500</text><line x1="1133" y1="493.5" x2="1135" y2="493.5" stroke="#ddd"/>
<!-- last price -->
<rect x="1132.2" y="420.6" width="26.5" height="11.4" rx="2" fill="#5aaee0"/>
<text x="1135" y="429.2" class="yl" style="fill:#fff" textLength="22" lengthAdjust="spacingAndGlyphs">0.1022</text>
<!-- zoom controls -->
<rect x="546" y="494.9" width="59.6" height="22.4" rx="3" fill="#fbfbfb" fill-opacity="0.85"/>
<path d="M547 516.8 Q547 517.6 548.5 517.6 L603.5 517.6 Q605 517.6 605 516.8" fill="none" stroke="#cfcfcf" stroke-width="0.9"/>
<line x1="575.7" y1="495.5" x2="575.7" y2="517" stroke="#dcdcdc"/>
<line x1="557.3" y1="505.6" x2="565.7" y2="505.6" stroke="#5aaee6" stroke-width="1.5"/>
<line x1="586" y1="505.6" x2="594.3" y2="505.6" stroke="#5aaee6" stroke-width="1.6"/>
<line x1="590" y1="501.3" x2="590" y2="509.8" stroke="#5aaee6" stroke-width="1.8"/>
<rect x="612.2" y="494.9" width="29.2" height="22.4" rx="3" fill="#fbfbfb" fill-opacity="0.85"/>
<path d="M613 516.8 Q613 517.6 614.5 517.6 L639.5 517.6 Q641 517.6 641 516.8" fill="none" stroke="#cfcfcf" stroke-width="0.9"/>
<g stroke="#62aee5" stroke-width="1.1" fill="#62aee5"><line x1="623" y1="505.2" x2="630.5" y2="500.7"/><line x1="623" y1="505.2" x2="630.3" y2="509.4"/><circle cx="623" cy="505.2" r="1.9" stroke="none"/><circle cx="630.5" cy="500.7" r="1.75" stroke="none"/><circle cx="630.3" cy="509.4" r="1.75" stroke="none"/></g>
<!-- footer -->
<rect x="0" y="561" width="1166" height="21" fill="#f7f7f7"/>
<line x1="0" y1="561.5" x2="1166" y2="561.5" stroke="#e2e2e2"/>
<rect x="0" y="561" width="1" height="21" fill="#d3d5d8"/><rect x="1" y="561" width="1" height="21" fill="#e6e6e6"/>
<polygon points="902.6,562 925.3,562 908.1,575.4" fill="none" stroke="#e4e6e9" stroke-width="0.8"/>
<text x="7" y="568.8" class="ft" textLength="843" lengthAdjust="spacingAndGlyphs">MARKET PRICE (SELL PRICE) IS PROVIDED FOR INFORMATION PURPOSES ONLY. USER PERFORMANCE IS BASED ON A $10000 COPY SIMULATED RESULTS WITH A COPY STOP LOSS OF 60%. PAST PERFORMANCE IS NOT INDICATIVE OF FUTURE RESULTS.</text>
<!-- header separators -->
<g stroke="#dadada" stroke-width="1" stroke-dasharray="1,1">
<line x1="744.5" y1="0" x2="744.5" y2="31"/>
<line x1="904.5" y1="0" x2="904.5" y2="31"/>
<line x1="938.5" y1="0" x2="938.5" y2="31"/>
<line x1="982.5" y1="0" x2="982.5" y2="31"/>
<line x1="1020.5" y1="0" x2="1020.5" y2="31"/>
<line x1="1063.5" y1="0" x2="1063.5" y2="31"/>
<line x1="1098.5" y1="0" x2="1098.5" y2="31"/>
<line x1="1132.5" y1="0" x2="1132.5" y2="31"/>
</g>
<line x1="1165.5" y1="0" x2="1165.5" y2="31" stroke="#ccc"/>
<!-- logo -->
<g transform="translate(21.5,15.6)">
<g fill="#4c9ee0">
<circle cx="-1.3" cy="-2.8" r="1.35"/><circle cx="1.3" cy="-2.8" r="1.35"/>
<circle cx="-1.3" cy="2.8" r="1.35"/><circle cx="1.3" cy="2.8" r="1.35"/>
<ellipse cx="-2.7" cy="0" rx="1.2" ry="1.9"/><ellipse cx="2.7" cy="0" rx="1.2" ry="1.9"/>
</g>
<g fill="#7dbbea">
<rect x="-5" y="-2.7" width="10" height="1"/><rect x="-5" y="2.4" width="10" height="1"/>
</g>
<g fill="#5aa9e6">
<circle cx="0" cy="-5.1" r="0.8"/><circle cx="-3.1" cy="-5.2" r="0.7"/><circle cx="3.1" cy="-5.2" r="0.7"/>
<circle cx="0" cy="5.4" r="0.8"/><circle cx="-3.1" cy="5.6" r="0.7"/><circle cx="3.1" cy="5.6" r="0.7"/>
<rect x="-6.6" y="-1.1" width="1" height="2.2"/><rect x="5.6" y="-1.1" width="1" height="2.2"/>
<circle cx="0" cy="-7.8" r="0.6"/><circle cx="0" cy="8" r="0.6"/>
</g>
<g fill="#a7cff0">
<circle cx="-8.1" cy="0" r="0.55"/><circle cx="8.1" cy="0" r="0.55"/>
<circle cx="-4" cy="-7.2" r="0.5"/><circle cx="4" cy="-7.2" r="0.45"/>
<circle cx="-4" cy="7.8" r="0.5"/><circle cx="4" cy="7.8" r="0.5"/>
<circle cx="-6.1" cy="4" r="0.5"/><circle cx="7" cy="3.8" r="0.5"/>
</g>
</g>
<text x="40.3" y="20.4" textLength="25" lengthAdjust="spacingAndGlyphs" style="font-family:'Liberation Sans',sans-serif;font-weight:bold;font-size:12.6px;fill:#2a2a2a">ADA</text>
<!-- S / B -->
<rect x="748.5" y="3.5" width="21.5" height="23" fill="#6e7285" stroke="#505364"/>
<rect x="770.5" y="3.5" width="51.5" height="23" fill="#f3f3f3" stroke="#e6e6e6"/>
<text x="759" y="19.6" text-anchor="middle" style="font-family:'Liberation Sans',sans-serif;font-weight:bold;font-size:13px;fill:#fff">S</text>
<text x="788" y="18.6" textLength="30.2" lengthAdjust="spacingAndGlyphs" style="font-family:'Liberation Sans',sans-serif;font-size:11px;fill:#222">0.1023</text>
<rect x="829.5" y="3.5" width="20.5" height="23" fill="#6e7285" stroke="#505364"/>
<rect x="850.5" y="3.5" width="52.5" height="23" fill="#f3f3f3" stroke="#e6e6e6"/>
<text x="839.5" y="19.6" text-anchor="middle" style="font-family:'Liberation Sans',sans-serif;font-weight:bold;font-size:13px;fill:#fff">B</text>
<text x="868.3" y="18.6" textLength="30.2" lengthAdjust="spacingAndGlyphs" style="font-family:'Liberation Sans',sans-serif;font-size:11px;fill:#222">0.1059</text>
<!-- crosshair button -->
<rect x="909.5" y="4.5" width="24" height="21.5" rx="3" fill="#fff" stroke="#eee"/>
<line x1="910" y1="26" x2="933" y2="26" stroke="#cfcfcf"/>
<g stroke="#8c8c8c" stroke-width="1.5">
<line x1="913" y1="15" x2="918" y2="15"/><line x1="923.5" y1="15" x2="928.5" y2="15"/>
<line x1="920.6" y1="7.3" x2="920.6" y2="12.5"/><line x1="920.6" y1="17.5" x2="920.6" y2="22.7"/>
</g>
<!-- area chart icon -->
<g fill="#d4d4d4">
<path d="M948 22 L948 16 L951.5 13 L955 16 L955 22 Z"/>
<path d="M956 22 L956 14 L959 12 L962 10.5 L963 22 Z"/>
</g>
<g stroke="#aaa" stroke-width="1" fill="none"><path d="M948 16.5 L951.5 13.5 L954.5 16"/><path d="M956 14 L958.5 12.5 L960 13.5 L962.5 10.5"/></g>
<line x1="955.5" y1="10" x2="955.5" y2="23" stroke="#ccc"/>
<path d="M969.5 12 L975 12 L972.25 15 Z" fill="#888"/>
<!-- 1W -->
<text x="990" y="18.8" style="font-family:'Liberation Sans',sans-serif;font-weight:bold;font-size:9.5px;fill:#9a9a9a">1W</text>
<path d="M1006.5 12.2 L1012.5 12.2 L1009.5 15.5 Z" fill="#888"/>
<!-- candle icon -->
<g fill="#8f8f8f" stroke="#8f8f8f">
<line x1="1032.5" y1="10" x2="1032.5" y2="23" stroke-width="1"/><rect x="1030.8" y="13.5" width="3.6" height="7.5" rx="0.6" stroke="none"/>
<line x1="1038" y1="7.5" x2="1038" y2="20.5" stroke-width="1"/><rect x="1036.2" y="10" width="3.6" height="9" rx="0.6" stroke="none"/>
<line x1="1043.5" y1="11" x2="1043.5" y2="24" stroke-width="1"/><rect x="1041.7" y="14.5" width="3.6" height="6.5" rx="0.6" stroke="none"/>
</g>
<path d="M1050.5 12.3 L1057 12.3 L1053.75 15.5 Z" fill="#888"/>
<!-- drawing tool icon -->
<g fill="#8a8a8a">
<path d="M1074 20.5 L1084 11 L1087.5 12.5 L1077.5 22 Z"/>
<path d="M1079 22 L1088 14.5 L1088 22 Z" fill="#aaa"/>
</g>
<!-- gear -->
<g transform="translate(1115.5,15.5)" fill="#8a8a8a">
<circle r="5.6"/>
<g>
<rect x="-1.6" y="-7.5" width="3.2" height="15" rx="0.5"/>
<rect x="-1.6" y="-7.5" width="3.2" height="15" rx="0.5" transform="rotate(45)"/>
<rect x="-1.6" y="-7.5" width="3.2" height="15" rx="0.5" transform="rotate(90)"/>
<rect x="-1.6" y="-7.5" width="3.2" height="15" rx="0.5" transform="rotate(135)"/>
</g>
<circle r="2.4" fill="#f7f7f7"/>
</g>
<!-- fullscreen -->
<rect x="1139" y="5" width="19.6" height="20.5" fill="#f5f5f5"/>
<g stroke="#8a8a8a" stroke-width="1.8" fill="#8a8a8a">
<line x1="1143.5" y1="20.5" x2="1154" y2="10"/>
</g>
<path d="M1149.5 8 L1156 8 L1156 14.5 Z" fill="#8a8a8a"/>
<path d="M1142 15.5 L1142 22 L1148.5 22 Z" fill="#8a8a8a"/>

</svg>
</body></html>
